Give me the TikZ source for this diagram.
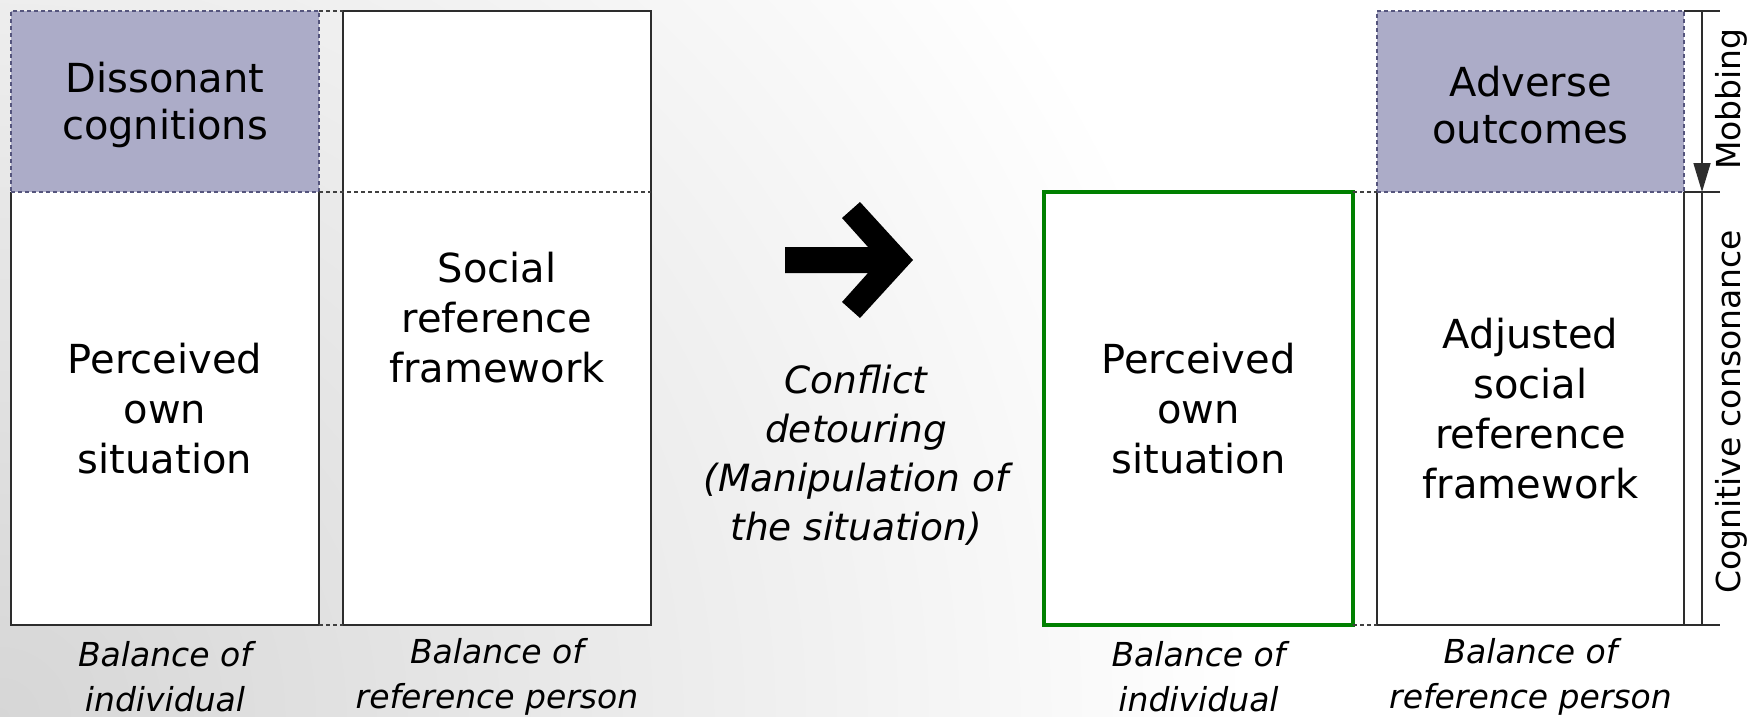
\documentclass[tikz,border=0pt]{standalone}
\usepackage{fontspec}
\setmainfont{DejaVu Sans}
\usetikzlibrary{arrows.meta,shadings}
\definecolor{purp}{RGB}{172,172,200}
\definecolor{purpline}{RGB}{85,85,125}
\definecolor{grn}{RGB}{0,128,0}
\definecolor{edgec}{RGB}{45,45,45}
\begin{document}
\begin{tikzpicture}[x=1pt,y=-1pt,
  maintext/.style={font=\fontsize{40}{50}\selectfont, align=center, inner sep=0pt, outer sep=0pt},
  purpbox/.style={fill=purp, draw=purpline, line width=1.2pt, dash pattern=on 4pt off 3pt, inner sep=0pt, outer sep=0pt},
  purptext/.style={font=\fontsize{40}{47}\selectfont, align=center, inner sep=0pt},
  whitefill/.style={maintext, fill=white},
  whitebox/.style={maintext, fill=white, draw=edgec, line width=1.5pt},
  greenbox/.style={maintext, fill=white, draw=grn, line width=4.5pt},
  solidline/.style={draw=edgec, line width=1.5pt},
  dashline/.style={draw=black!75, line width=1.2pt, dash pattern=on 4pt off 3pt},
  note/.style={font=\fontsize{33}{45}\selectfont\itshape, align=center, inner sep=0pt},
  midnote/.style={font=\fontsize{37.5}{49}\selectfont\itshape, align=center, inner sep=0pt},
  sidelabel/.style={font=\fontsize{33}{40}\selectfont, inner sep=0pt, rotate=90, anchor=base}
]
\useasboundingbox (0,0) rectangle (1756,717);
\begin{scope}
\clip (0,0) rectangle (1756,717);
\fill[white] (0,0) rectangle (1756,717);
\shade[inner color=black!16, outer color=white] (0,717) circle (1250);
\end{scope}

% left pair
\node[whitefill, minimum width=308pt, minimum height=433pt] (b1) at (165,408.5) {Perceived\\own\\situation};
\draw[solidline] (b1.north west) -- (b1.south west) -- (b1.south east) -- (b1.north east);
\node[whitebox, minimum width=308pt, minimum height=614pt] (b2) at (497,318) {Social\\reference\\framework};
\node[purpbox, minimum width=308pt, minimum height=181pt] (p1) at (165,101.5) {};
\node[purptext] (t1) at (165,105) {Dissonant\\cognitions};
\draw[dashline] (p1.north east) -- (b2.north west);
\draw[dashline] (p1.south east) -- (p1.south east -| b2.east);
\draw[dashline] (b1.south east) -- (b2.south west);

% middle arrow and text
\fill[black] (785,247) -- (868,247) -- (842,218) -- (860,202) -- (913,260) -- (860,318) -- (842,302) -- (868,273) -- (785,273) -- cycle;
\node[midnote] (conf) at (856,455) {Conflict\\detouring\\(Manipulation of\\the situation)};

% right pair
\node[greenbox, minimum width=309pt, minimum height=433pt] (g) at (1198.5,408.5) {Perceived\\own\\situation};
\node[whitefill, minimum width=307pt, minimum height=433pt] (b4) at (1530.5,408.5) {Adjusted\\social\\reference\\framework};
\draw[solidline] (b4.north west) -- (b4.south west) -- (b4.south east) -- (b4.north east);
\node[purpbox, minimum width=307pt, minimum height=181pt] (p4) at (1530.5,101.5) {};
\node[purptext] (t4) at (1530.5,105) {Adverse\\outcomes};
\draw[dashline] (g.north east) -- (b4.north west);
\draw[dashline] (g.south east) -- (b4.south west);

% right scale
\coordinate (s1) at (1702,11);
\coordinate (s2) at (1702,192);
\coordinate (s3) at (1702,625);
\coordinate (e1) at (1720,11);
\coordinate (e2) at (1720,192);
\coordinate (e3) at (1720,625);
\draw[solidline] (p4.north east) -- (e1);
\draw[solidline] (b4.north east) -- (e2);
\draw[solidline] (b4.south east) -- (e3);
\draw[solidline, -{Triangle[length=29pt,width=17pt]}] (s1) -- (s2);
\draw[solidline] (s2) -- (s3);
\node[sidelabel] (mob) at (1740,99) {Mobbing};
\node[sidelabel] (cons) at (1740,412) {Cognitive consonance};

% bottom labels
\node[note] (l1) at (165,676.5) {Balance of\\individual};
\node[note] (l2) at (497,676.5) {Balance of\\reference person};
\node[note] (l3) at (1198.5,676.5) {Balance of\\individual};
\node[note] (l4) at (1530.5,676.5) {Balance of\\reference person};
\end{tikzpicture}
\end{document}
